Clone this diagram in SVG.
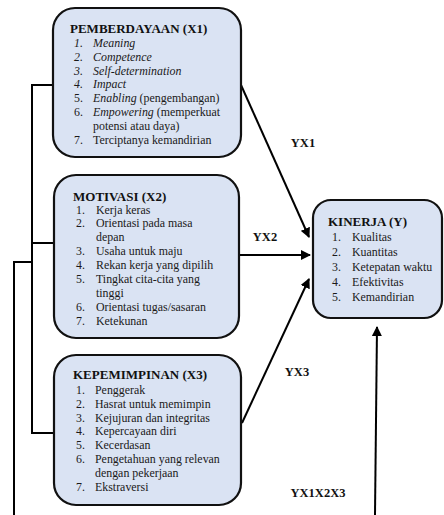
<svg xmlns="http://www.w3.org/2000/svg" width="444" height="515" viewBox="0 0 444 515">
<style>
.box{fill:#dae3f3;stroke:#111;stroke-width:2.2}
.t{font-family:"Liberation Serif","Times New Roman",serif;font-size:11.9px;fill:#1a1a1a}
.h{font-family:"Liberation Serif","Times New Roman",serif;font-size:13px;font-weight:bold;fill:#111}
.lb{font-family:"Liberation Serif","Times New Roman",serif;font-size:12.5px;font-weight:bold;fill:#111;text-anchor:middle}
.i{font-style:italic}
.ln{fill:none;stroke:#000;stroke-width:2}
</style>
<defs>
<marker id="ah" viewBox="0 0 10 10" refX="9" refY="5" markerWidth="5" markerHeight="5" orient="auto" markerUnits="strokeWidth">
<path d="M0,0 L10,5 L0,10 z" fill="#000"/>
</marker>
</defs>
<rect width="444" height="515" fill="#fff"/>
<g id="connectors">
<path class="ln" d="M53,85 H32 V433 H54"/>
<path class="ln" d="M32,243 H54"/>
<path class="ln" d="M32,262 H14 V515"/>
<path class="ln" d="M241,85 L309,237" marker-end="url(#ah)"/>
<path class="ln" d="M239,255 L310,255" marker-end="url(#ah)"/>
<path class="ln" d="M242,423 L309,279" marker-end="url(#ah)"/>
<path class="ln" d="M375,515 L377,327" marker-end="url(#ah)"/>
<text class="lb" x="303" y="147">YX1</text>
<text class="lb" x="265" y="241">YX2</text>
<text class="lb" x="297" y="376">YX3</text>
<text class="lb" x="318" y="497">YX1X2X3</text>
</g>
<g id="x1">
<rect class="box" x="53" y="8" width="188" height="149" rx="22"/>
<text class="h" x="70" y="33">PEMBERDAYAAN (X1)</text>
<text class="t i" x="74" y="47">1.</text><text class="t i" x="93" y="47">Meaning</text>
<text class="t i" x="74" y="61">2.</text><text class="t i" x="93" y="61">Competence</text>
<text class="t i" x="74" y="75">3.</text><text class="t i" x="93" y="75">Self-determination</text>
<text class="t i" x="74" y="88">4.</text><text class="t i" x="93" y="88">Impact</text>
<text class="t" x="74" y="102">5.</text><text class="t" x="93" y="102"><tspan class="i">Enabling</tspan> (pengembangan)</text>
<text class="t" x="74" y="116">6.</text><text class="t" x="93" y="116"><tspan class="i">Empowering</tspan> (memperkuat</text>
<text class="t" x="93" y="130">potensi atau daya)</text>
<text class="t" x="74" y="144">7.</text><text class="t" x="93" y="144">Terciptanya kemandirian</text>
</g>
<g id="x2">
<rect class="box" x="54" y="175" width="185" height="163" rx="22"/>
<text class="h" x="73" y="201">MOTIVASI (X2)</text>
<text class="t" x="76" y="213.5">1.</text><text class="t" x="96" y="213.5">Kerja keras</text>
<text class="t" x="76" y="227.4">2.</text><text class="t" x="96" y="227.4">Orientasi pada masa</text>
<text class="t" x="96" y="241.3">depan</text>
<text class="t" x="76" y="255.2">3.</text><text class="t" x="96" y="255.2">Usaha untuk maju</text>
<text class="t" x="76" y="269.1">4.</text><text class="t" x="96" y="269.1">Rekan kerja yang dipilih</text>
<text class="t" x="76" y="283">5.</text><text class="t" x="96" y="283">Tingkat cita-cita yang</text>
<text class="t" x="96" y="296.9">tinggi</text>
<text class="t" x="76" y="310.8">6.</text><text class="t" x="96" y="310.8">Orientasi tugas/sasaran</text>
<text class="t" x="76" y="324.7">7.</text><text class="t" x="96" y="324.7">Ketekunan</text>
</g>
<g id="x3">
<rect class="box" x="54" y="355" width="187" height="150" rx="22"/>
<text class="h" x="73" y="379">KEPEMIMPINAN (X3)</text>
<text class="t" x="76" y="394">1.</text><text class="t" x="95" y="394">Penggerak</text>
<text class="t" x="76" y="407.5">2.</text><text class="t" x="95" y="407.5">Hasrat untuk memimpin</text>
<text class="t" x="76" y="421.5">3.</text><text class="t" x="95" y="421.5">Kejujuran dan integritas</text>
<text class="t" x="76" y="435">4.</text><text class="t" x="95" y="435">Kepercayaan diri</text>
<text class="t" x="76" y="449">5.</text><text class="t" x="95" y="449">Kecerdasan</text>
<text class="t" x="76" y="463">6.</text><text class="t" x="95" y="463">Pengetahuan yang relevan</text>
<text class="t" x="95" y="477">dengan pekerjaan</text>
<text class="t" x="76" y="491">7.</text><text class="t" x="95" y="491">Ekstraversi</text>
</g>
<g id="y">
<rect class="box" x="313" y="200" width="129" height="118" rx="18"/>
<text class="h" x="328" y="226">KINERJA (Y)</text>
<text class="t" x="332" y="241">1.</text><text class="t" x="352" y="241">Kualitas</text>
<text class="t" x="332" y="256">2.</text><text class="t" x="352" y="256">Kuantitas</text>
<text class="t" x="332" y="271">3.</text><text class="t" x="352" y="271">Ketepatan waktu</text>
<text class="t" x="332" y="286">4.</text><text class="t" x="352" y="286">Efektivitas</text>
<text class="t" x="332" y="301">5.</text><text class="t" x="352" y="301">Kemandirian</text>
</g>
</svg>
